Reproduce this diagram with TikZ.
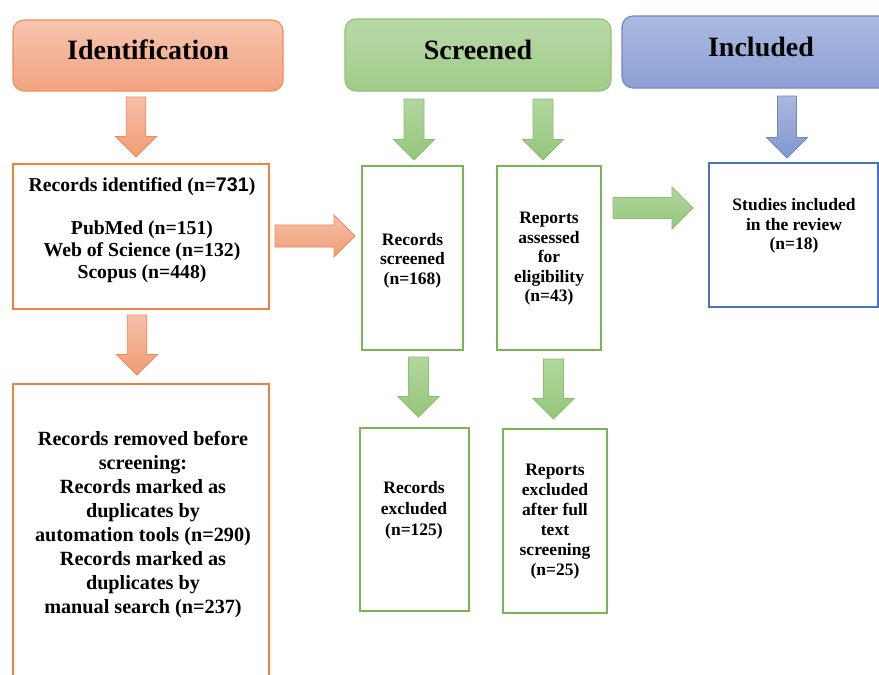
\documentclass[tikz,border=0pt]{standalone}
\usepackage{fontspec}
\setmainfont{Liberation Serif}
\newfontfamily\numfont{Liberation Sans}
\usetikzlibrary{calc}
\definecolor{oB}{HTML}{EE8240}
\definecolor{oHd}{HTML}{EE8E5E}
\definecolor{oHt}{HTML}{F7C4AE}
\definecolor{oHb}{HTML}{F2A480}
\definecolor{oAd}{HTML}{EE8A5A}
\definecolor{oAt}{HTML}{F6C0A8}
\definecolor{oAb}{HTML}{F09C74}
\definecolor{gB}{HTML}{79B653}
\definecolor{gHd}{HTML}{8DC46E}
\definecolor{gHt}{HTML}{B8D9A8}
\definecolor{gHb}{HTML}{A0CC88}
\definecolor{gAd}{HTML}{8AC26B}
\definecolor{gAt}{HTML}{B2D69F}
\definecolor{gAb}{HTML}{95C67A}
\definecolor{bB}{HTML}{4A72C0}
\definecolor{bHd}{HTML}{6F89C6}
\definecolor{bHt}{HTML}{AABAE1}
\definecolor{bHb}{HTML}{8DA0D4}
\definecolor{bAd}{HTML}{6F89C6}
\definecolor{bAt}{HTML}{A9B8E0}
\definecolor{bAb}{HTML}{8296D0}
\tikzset{
  hdr/.style={draw, rounded corners=11pt, line width=1.1pt, inner sep=0pt,
    font=\fontsize{28}{30}\selectfont\bfseries, text height=20pt, text depth=12pt},
  box/.style={draw, line width=1.8pt, fill=white, inner sep=0pt},
  tx/.style={align=center, inner sep=0pt,
    execute at begin node=\strut, execute at end node=\strut},
  blk/.style={draw=#1Ad, top color=#1At, bottom color=#1Ab, line width=0.9pt, line join=miter}
}
% down block arrow from node #2 to node #3:
% colour, from, to, x, gap at tail, gap at tip, shaft half, head half
\newcommand\blkdown[8]{%
  \shade[blk=#1] let \p1=(#2.south), \p2=(#3.north), \p3=(#4,0) in
    (\x3-#7pt,\y1-#5pt) -- (\x3+#7pt,\y1-#5pt) -- (\x3+#7pt,\y2+#6pt+#8pt)
    -- (\x3+#8pt,\y2+#6pt+#8pt) -- (\x3,\y2+#6pt) -- (\x3-#8pt,\y2+#6pt+#8pt)
    -- (\x3-#7pt,\y2+#6pt+#8pt) -- cycle;}
% right block arrow from node #2 to node #3:
% colour, from, to, y, gap at tail, gap at tip, shaft half, head half
\newcommand\blkright[8]{%
  \shade[blk=#1] let \p1=(#2.east), \p2=(#3.west), \p3=(0,#4) in
    (\x1+#5pt,\y3+#7pt) -- (\x2-#6pt-#8pt,\y3+#7pt) -- (\x2-#6pt-#8pt,\y3+#8pt)
    -- (\x2-#6pt,\y3) -- (\x2-#6pt-#8pt,\y3-#8pt) -- (\x2-#6pt-#8pt,\y3-#7pt)
    -- (\x1+#5pt,\y3-#7pt) -- cycle;}
\begin{document}
\begin{tikzpicture}[x=1pt,y=-1pt]
\useasboundingbox (0,0) rectangle (879,675);
\fill[white] (0,0) rectangle (879,675);

% headers
\node[hdr, draw=oHd, top color=oHt, bottom color=oHb, minimum width=270pt, minimum height=71pt] (idH) at (148,55.5) {Identification};
\node[hdr, draw=gHd, top color=gHt, bottom color=gHb, minimum width=266pt, minimum height=72pt] (scH) at (478,55) {Screened};
\node[hdr, draw=bHd, top color=bHt, bottom color=bHb, minimum width=278pt, minimum height=72pt] (inH) at (761,52) {Included};

% boxes
\node[box, draw=oB, minimum width=256pt, minimum height=145pt] (ident) at (141,236.5) {};
\node[box, draw=oB, minimum width=256pt, minimum height=320pt] (removed) at (141,544) {};
\node[box, draw=gB, minimum width=101pt, minimum height=184pt] (screen) at (412.5,258) {};
\node[box, draw=gB, minimum width=104pt, minimum height=184pt] (assess) at (549,258) {};
\node[box, draw=gB, minimum width=109pt, minimum height=183pt] (recex) at (414.5,519.5) {};
\node[box, draw=gB, minimum width=104pt, minimum height=184pt] (repex) at (555,521) {};
\node[box, draw=bB, minimum width=169pt, minimum height=144pt] (study) at (793.5,235) {};

% texts
\node[tx, font=\fontsize{19.7}{22}\selectfont\bfseries] (identT) at (142,231.1)
  {Records identified (n={\numfont 731})\\[21pt]PubMed (n=151)\\Web of Science (n=132)\\Scopus (n=448)};
\node[tx, font=\fontsize{20.2}{24}\selectfont\bfseries] (removedT) at (143,526.2)
  {Records removed before\\screening:\\Records marked as\\duplicates by\\automation tools (n=290)\\Records marked as\\duplicates by\\manual search (n=237)};
\node[tx, font=\fontsize{17.5}{19.5}\selectfont\bfseries] (screenT) at (412.5,261.6)
  {Records\\screened\\(n=168)};
\node[tx, font=\fontsize{17.5}{19.5}\selectfont\bfseries] (assessT) at (549,260.1)
  {Reports\\assessed\\for\\eligibility\\(n=43)};
\node[tx, font=\fontsize{17.5}{21}\selectfont\bfseries] (recexT) at (414,511.8)
  {Records\\excluded\\(n=125)};
\node[tx, font=\fontsize{17.5}{20}\selectfont\bfseries] (repexT) at (555,522.7)
  {Reports\\excluded\\after full\\text\\screening\\(n=25)};
\node[tx, font=\fontsize{17.5}{19.3}\selectfont\bfseries] (studyT) at (794,227.1)
  {Studies included\\in the review\\(n=18)};

% block arrows between named nodes
\blkdown{o}{idH}{ident}{136}{5.45}{6.1}{9.75}{20.5}
\blkdown{o}{ident}{removed}{137}{5.1}{8.1}{9.75}{20.5}
\blkright{o}{ident}{screen}{236}{5.1}{6.1}{11}{21}
\blkdown{g}{scH}{screen}{414}{7.45}{5.1}{10}{20.5}
\blkdown{g}{scH}{assess}{543}{7.45}{5.1}{10}{20.5}
\blkdown{g}{screen}{recex}{418.5}{6.1}{10.1}{10}{20.5}
\blkdown{g}{assess}{repex}{553.5}{8.1}{9.1}{10}{20.5}
\blkright{g}{assess}{study}{208}{11.1}{15.1}{10.5}{21}
\blkdown{b}{inH}{study}{787}{7.45}{4.1}{9.5}{20.5}
\end{tikzpicture}
\end{document}
